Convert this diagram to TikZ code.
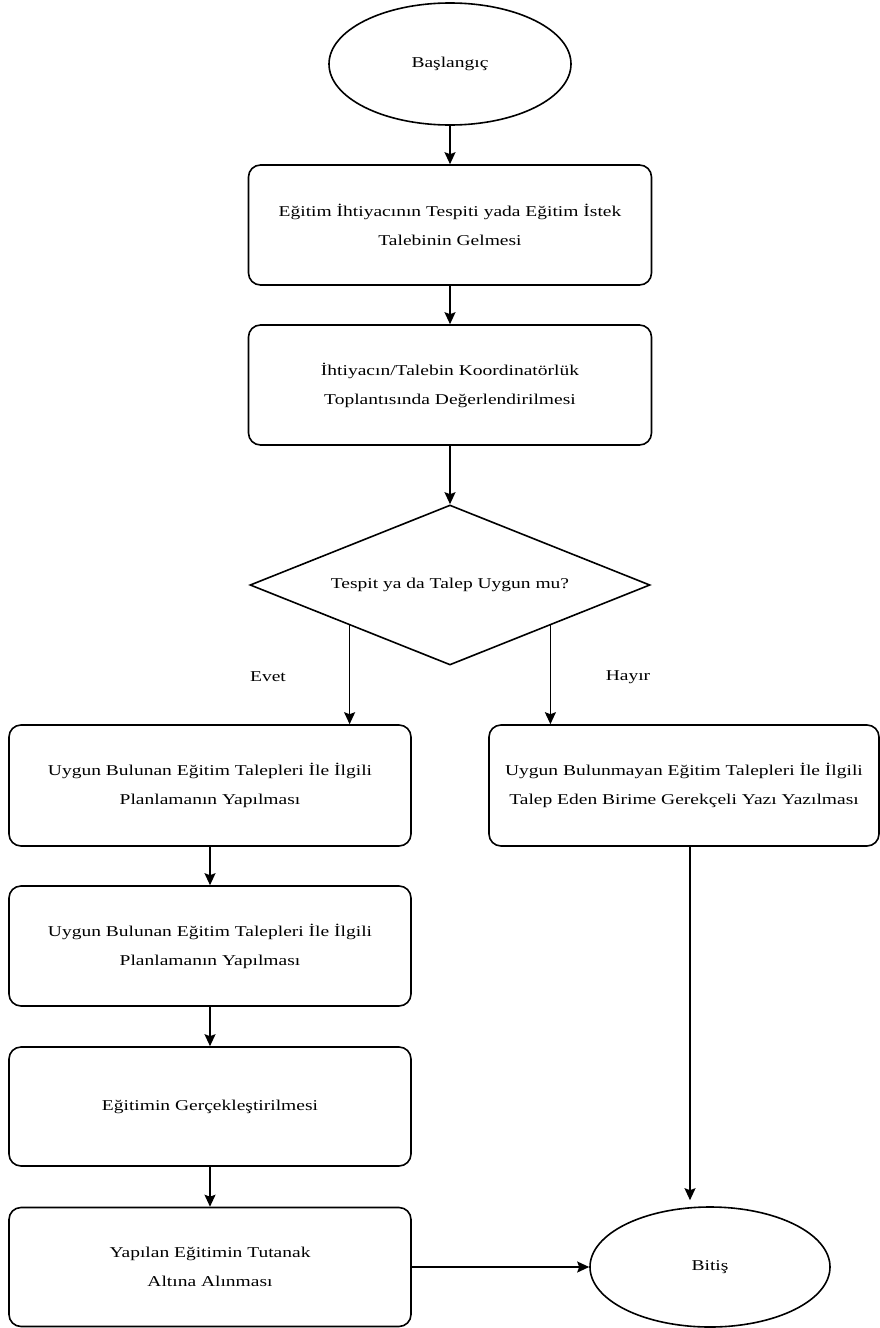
\documentclass[tikz,border=0pt]{standalone}
\usepackage{fontspec}
\setmainfont{Liberation Serif}[FakeStretch=1.3]
\usetikzlibrary{shapes.geometric,arrows.meta}
\begin{document}
\begin{tikzpicture}[x=1pt,y=-1pt,
  every node/.style={font=\fontsize{15}{29}\selectfont, text=black},
  proc/.style={draw=black, rounded corners=12pt, line width=1.6pt, align=center, inner sep=0pt},
  term/.style={draw=black, ellipse, line width=1.6pt, inner sep=0pt},
  dec/.style={draw=black, diamond, line width=1.6pt, inner sep=0pt, aspect=2.5},
  arr/.style={line width=1.6pt, -{Stealth[length=12pt,width=11pt,inset=2pt]}},
  lbl/.style={inner sep=0pt}]
\useasboundingbox[fill=white] (0,0) rectangle (880,1328);

\node[term, minimum width=242pt, minimum height=122pt] (start) at (450,64) {Başlangıç};
\node[proc, minimum width=403pt, minimum height=120pt] (b1) at (450,225) {Eğitim İhtiyacının Tespiti yada Eğitim İstek\\Talebinin Gelmesi};
\node[proc, minimum width=403pt, minimum height=120pt] (b2) at (450,385) {İhtiyacın/Talebin Koordinatörlük\\Toplantısında Değerlendirilmesi};
\node[dec, minimum width=400pt, minimum height=160pt] (dia) at (450,585) {Tespit ya da Talep Uygun mu?};

\node[lbl] (evet) at (268,677) {Evet};
\node[lbl] (hayir) at (628,677) {Hayır};

\node[proc, minimum width=402pt, minimum height=121pt] (bA) at (210,785.5) {Uygun Bulunan Eğitim Talepleri İle İlgili\\Planlamanın Yapılması};
\node[proc, minimum width=390pt, minimum height=121pt] (rb) at (684,785.5) {Uygun Bulunmayan Eğitim Talepleri İle İlgili\\Talep Eden Birime Gerekçeli Yazı Yazılması};
\node[proc, minimum width=402pt, minimum height=120pt] (bB) at (210,946) {Uygun Bulunan Eğitim Talepleri İle İlgili\\Planlamanın Yapılması};
\node[proc, minimum width=402pt, minimum height=119pt] (bC) at (210,1106.5) {Eğitimin Gerçekleştirilmesi};
\node[proc, minimum width=402pt, minimum height=119pt] (bD) at (210,1267) {Yapılan Eğitimin Tutanak\\Altına Alınması};
\node[term, minimum width=240pt, minimum height=120pt] (bitis) at (710,1267) {Bitiş};

\draw[arr] (start) -- (b1);
\draw[arr] (b1) -- (b2);
\draw[arr] (b2) -- (dia);
\draw[arr] (dia.south west) -- (dia.south west |- bA.north);
\draw[arr] (dia.south east) -- (dia.south east |- rb.north);
\draw[arr] (bA) -- (bB);
\draw[arr] (bB) -- (bC);
\draw[arr] (bC) -- (bD);
\draw[arr] (bD) -- (bitis);
\draw[arr, shorten >=6pt] ([xshift=6pt]rb.south) -- ([xshift=6pt]rb.south |- bitis.north);
\end{tikzpicture}
\end{document}
